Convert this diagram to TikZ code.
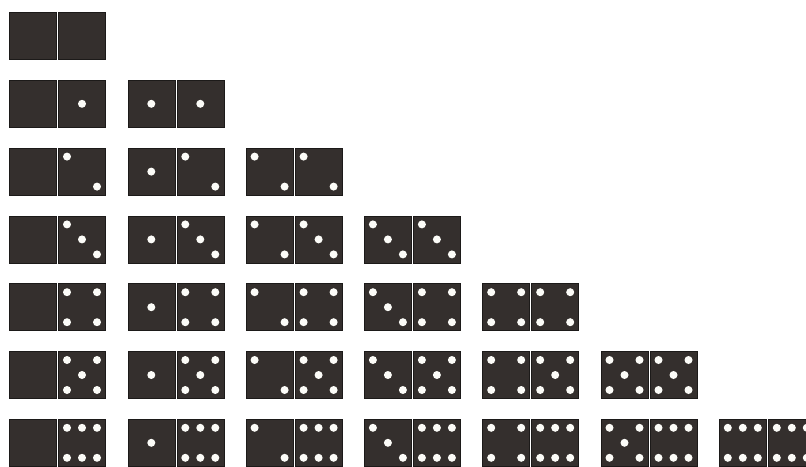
\documentclass[tikz,border=0pt]{standalone}
\usepackage{tikz}
\usetikzlibrary{calc, positioning}

\definecolor{domfill}{RGB}{52,47,45}
\definecolor{domedge}{RGB}{28,26,25}
\definecolor{pipcol}{RGB}{252,252,248}

\tikzset{
    half/.style={draw=domedge, fill=domfill, line width=0.6pt,
                 minimum size=47pt, inner sep=0pt, outer sep=0pt},
    pip/.style={fill=pipcol}
}

% one pip at an offset from the centre of a half
\newcommand{\dompip}[3]{\fill[pip] ($(#1.center)+(#2,#3)$) circle (4pt);}

% the pips of one half: #1 = node name, #2 = count
\newcommand{\dompips}[2]{%
    \ifcase#2\relax
    \or \dompip{#1}{0}{0}
    \or \dompip{#1}{-15}{-15}\dompip{#1}{15}{15}
    \or \dompip{#1}{-15}{-15}\dompip{#1}{0}{0}\dompip{#1}{15}{15}
    \or \dompip{#1}{-15}{-15}\dompip{#1}{15}{-15}\dompip{#1}{-15}{15}\dompip{#1}{15}{15}
    \or \dompip{#1}{-15}{-15}\dompip{#1}{15}{-15}\dompip{#1}{0}{0}\dompip{#1}{-15}{15}\dompip{#1}{15}{15}
    \or \dompip{#1}{-15}{-15}\dompip{#1}{0}{-15}\dompip{#1}{15}{-15}\dompip{#1}{-15}{15}\dompip{#1}{0}{15}\dompip{#1}{15}{15}
    \fi}

\begin{document}
\begin{tikzpicture}[x=1pt, y=-1pt]

    % =========================================================================
    % Page frame
    % =========================================================================
    \clip (0,0) rectangle (806,466);
    \fill[white] (0,0) rectangle (806,466);

    % =========================================================================
    % Dominoes: row n holds the stones (m|n) for m = 0..n
    % =========================================================================
    \foreach \n in {0,...,6} {
        \foreach \m in {0,...,\n} {
            % left and right halves
            \node[half] (l-\n-\m) at ({33+118.3*\m}, {36+67.8*\n}) {};
            \node[half, right=2pt of l-\n-\m] (r-\n-\m) {};

            % pips
            \dompips{l-\n-\m}{\m}
            \dompips{r-\n-\m}{\n}
        }
    }

\end{tikzpicture}
\end{document}
